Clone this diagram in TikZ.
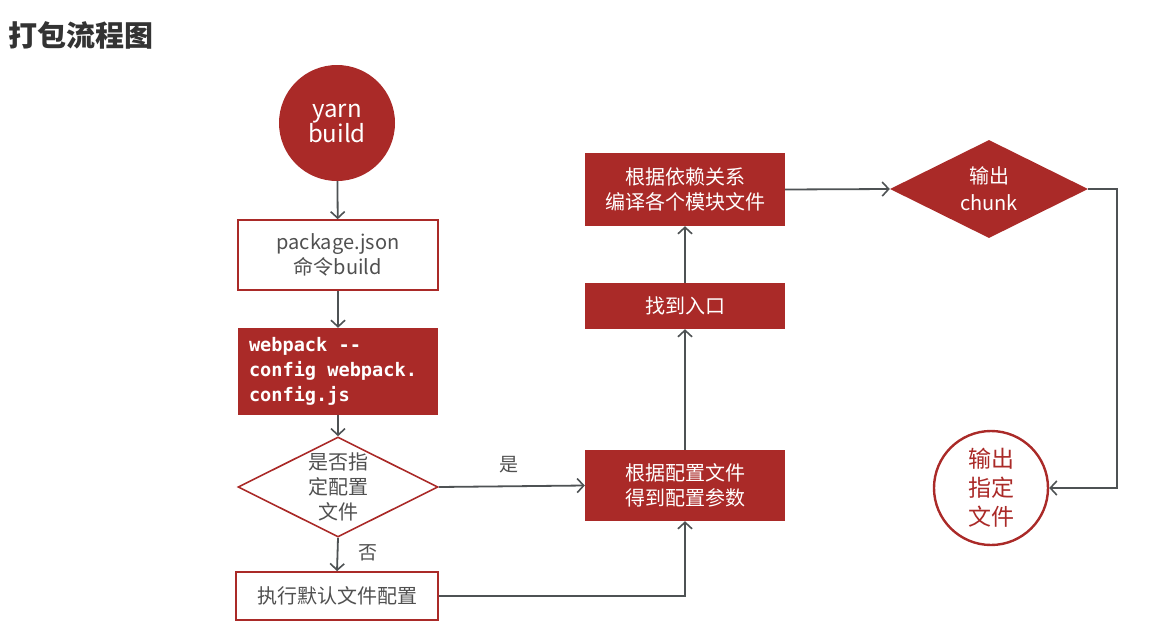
\documentclass[tikz,border=0pt]{standalone}
\usepackage{fontspec}
\setmainfont{Noto Sans CJK SC}
\newfontfamily\codefont{DejaVu Sans Mono}
\usetikzlibrary{shapes.geometric,arrows.meta}
\definecolor{brick}{RGB}{170,42,40}
\definecolor{txtgray}{RGB}{80,80,80}
\definecolor{lngray}{RGB}{78,82,84}
\newcommand{\msp}{\hspace{0.602em}}
\tikzset{
  base/.style={rectangle,minimum width=200pt,inner sep=0pt,align=center,font=\fontsize{20}{25}\selectfont},
  redbox/.style={base,fill=brick,text=white},
  whitebox/.style={base,draw=brick,line width=1.6pt,fill=white,text=txtgray},
  conn/.style={draw=lngray,line width=1.8pt,-{Straight Barb[length=6.5pt,width=14pt,line width=1.6pt]}},
  lbl/.style={text=txtgray,font=\fontsize{19}{22}\selectfont,inner sep=0pt},
}
\begin{document}
\begin{tikzpicture}[x=1pt,y=-1pt]
\useasboundingbox[fill=white] (0,0) rectangle (1173,640);
% title
\node[anchor=west,inner sep=0pt,text=black!80,font=\fontsize{29}{32}\selectfont\bfseries] (title) at (8,35) {打包流程图};
% nodes
\node[circle,fill=brick,minimum size=116pt,inner sep=0pt,text=white,align=center,font=\fontsize{24}{28}\selectfont] (yarn) at (337,123) {\raisebox{-3pt}{yarn}\\build};
\node[whitebox,minimum height=70pt] (pkg) at (338,255) {package.json\\命令build};
\node[redbox,minimum height=87pt,text width=178pt,align=left,font=\codefont\bfseries\fontsize{18.6}{25}\selectfont] (wp) at (338,371.5) {webpack\msp--\\config\msp webpack.\\config.js};
\node[diamond,draw=brick,line width=1.6pt,fill=white,minimum width=200pt,minimum height=100pt,inner sep=0pt] (d1) at (338,487) {};
\node[align=center,inner sep=0pt,text=txtgray,font=\fontsize{20}{25}\selectfont] (d1t) at (d1.center) {是否指\\定配置\\文件};
\node[whitebox,minimum width=202pt,minimum height=48pt] (def) at (337,596) {执行默认文件配置};
\node[redbox,minimum height=71pt] (cfg) at (685,485.5) {根据配置文件\\得到配置参数};
\node[redbox,minimum height=46pt] (find) at (685,306) {找到入口};
\node[redbox,minimum height=73pt] (dep) at (685,189.5) {根据依赖关系\\编译各个模块文件};
\node[diamond,fill=brick,minimum width=198pt,minimum height=98pt,inner sep=0pt] (d2) at (989,189) {};
\node[align=center,inner sep=0pt,text=white,font=\fontsize{20}{27}\selectfont] (d2t) at (d2.center) {输出\\chunk};
\node[circle,draw=brick,line width=2.4pt,fill=white,minimum size=114pt,inner sep=0pt,text=brick,align=center,font=\fontsize{23}{29}\selectfont] (out) at (991,488) {输出\\指定\\文件};
\coordinate (turn) at (1117,189);
% connectors
\draw[conn] (yarn) -- (pkg);
\draw[conn] (pkg) -- (wp);
\draw[conn] (wp.south) -- (d1.north);
\draw[conn] (d1.south) -- node[lbl,right=20pt,pos=0.45] (no) {否} (def.north);
\draw[conn] (d1.east) -- node[lbl,above=12pt,pos=0.48] (yes) {是} (cfg.west);
\draw[conn] (def.east) -| (cfg.south);
\draw[conn] (cfg) -- (find);
\draw[conn] (find) -- (dep);
\draw[conn] (dep.east) -- (d2.west);
\draw[conn] (d2.east) -- (turn) |- (out.east);
\end{tikzpicture}
\end{document}
